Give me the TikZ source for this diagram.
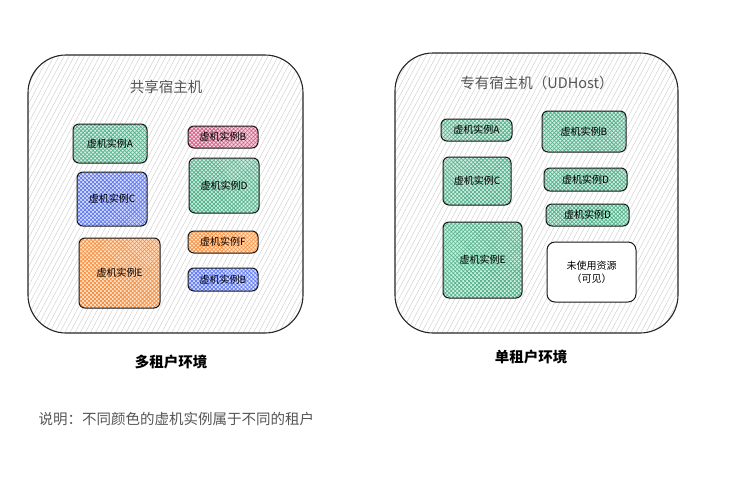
\documentclass[tikz,border=0pt]{standalone}
\usepackage{fontspec}
\setmainfont{Noto Sans CJK SC}
\usetikzlibrary{patterns.meta}

\definecolor{vmgreen}{RGB}{52,166,118}
\definecolor{vmblue}{RGB}{70,100,240}
\definecolor{vmorange}{RGB}{245,125,30}
\definecolor{vmpink}{RGB}{210,60,110}
\definecolor{hosttext}{RGB}{85,85,85}

\tikzset{
  host/.style={draw=black!85, line width=1.1pt, rounded corners=38pt, inner sep=0pt,
    preaction={fill=white},
    pattern={Lines[angle=62,distance=4.5pt,line width=0.35pt]}, pattern color=black!22},
  vm/.style={draw=black!90, line width=1pt, rounded corners=6pt, inner sep=0pt,
    font=\fontsize{10}{12}\selectfont,
    preaction={fill=#1!20},
    preaction={pattern={Lines[angle=45,distance=2.8pt,line width=0.75pt]}, pattern color=#1!85},
    pattern={Lines[angle=-45,distance=2.8pt,line width=0.75pt]}, pattern color=#1!85},
  free/.style={draw=black!90, line width=1pt, rounded corners=8pt, inner sep=0pt,
    fill=white, align=center, font=\fontsize{10}{13}\selectfont},
  sz/.style 2 args={minimum width=#1pt, minimum height=#2pt},
  hosttitle/.style={text=hosttext, font=\fontsize{14.5}{17}\selectfont},
  envlabel/.style={font=\fontsize{14.5}{17}\selectfont\bfseries},
}

\begin{document}
\begin{tikzpicture}[x=1pt, y=-1pt]
  \useasboundingbox (0,0) rectangle (731,493);

  % Shared host (multi tenant)
  \node[host, sz={275}{278}] (shared) at (165.5,194) {};
  \node[hosttitle] (sharedtitle) at (166,87) {共享宿主机};

  \node[vm=vmgreen,  sz={74}{39}] (sA)  at (110,143.5) {虚机实例A};
  \node[vm=vmblue,   sz={70}{54}] (sC)  at (112,199)   {虚机实例C};
  \node[vm=vmorange, sz={81}{70}] (sE)  at (119.5,273) {虚机实例E};
  \node[vm=vmpink,   sz={70}{22}] (sB)  at (223,137)   {虚机实例B};
  \node[vm=vmgreen,  sz={70}{55}] (sD)  at (224,185.5) {虚机实例D};
  \node[vm=vmorange, sz={70}{22}] (sF)  at (223,242)   {虚机实例F};
  \node[vm=vmblue,   sz={70}{23}] (sB2) at (223,279.5) {虚机实例B};

  % Dedicated host (single tenant)
  \node[host, sz={283}{280}] (dedicated) at (536.5,193) {};
  \node[hosttitle] (dedtitle) at (537,83) {专有宿主机（UDHost）};

  \node[vm=vmgreen, sz={71}{22}] (dA)  at (476.5,130)   {虚机实例A};
  \node[vm=vmgreen, sz={84}{41}] (dB)  at (584,131.5)   {虚机实例B};
  \node[vm=vmgreen, sz={68}{48}] (dC)  at (477,181)     {虚机实例C};
  \node[vm=vmgreen, sz={83}{23}] (dD)  at (585.5,179.5) {虚机实例D};
  \node[vm=vmgreen, sz={83}{22}] (dD2) at (587.5,215)   {虚机实例D};
  \node[vm=vmgreen, sz={79}{76}] (dE)  at (482.5,260)   {虚机实例E};
  \node[free, sz={89}{60}] (unused) at (591.5,272) {未使用资源\\（可见）};

  % Captions
  \node[envlabel] (multi)  at (171,362) {多租户环境};
  \node[envlabel] (single) at (531,357) {单租户环境};
  \node[anchor=west, text=hosttext, font=\fontsize{14.5}{17}\selectfont] (note) at (35,419)
    {说明：不同颜色的虚机实例属于不同的租户};

\end{tikzpicture}
\end{document}
